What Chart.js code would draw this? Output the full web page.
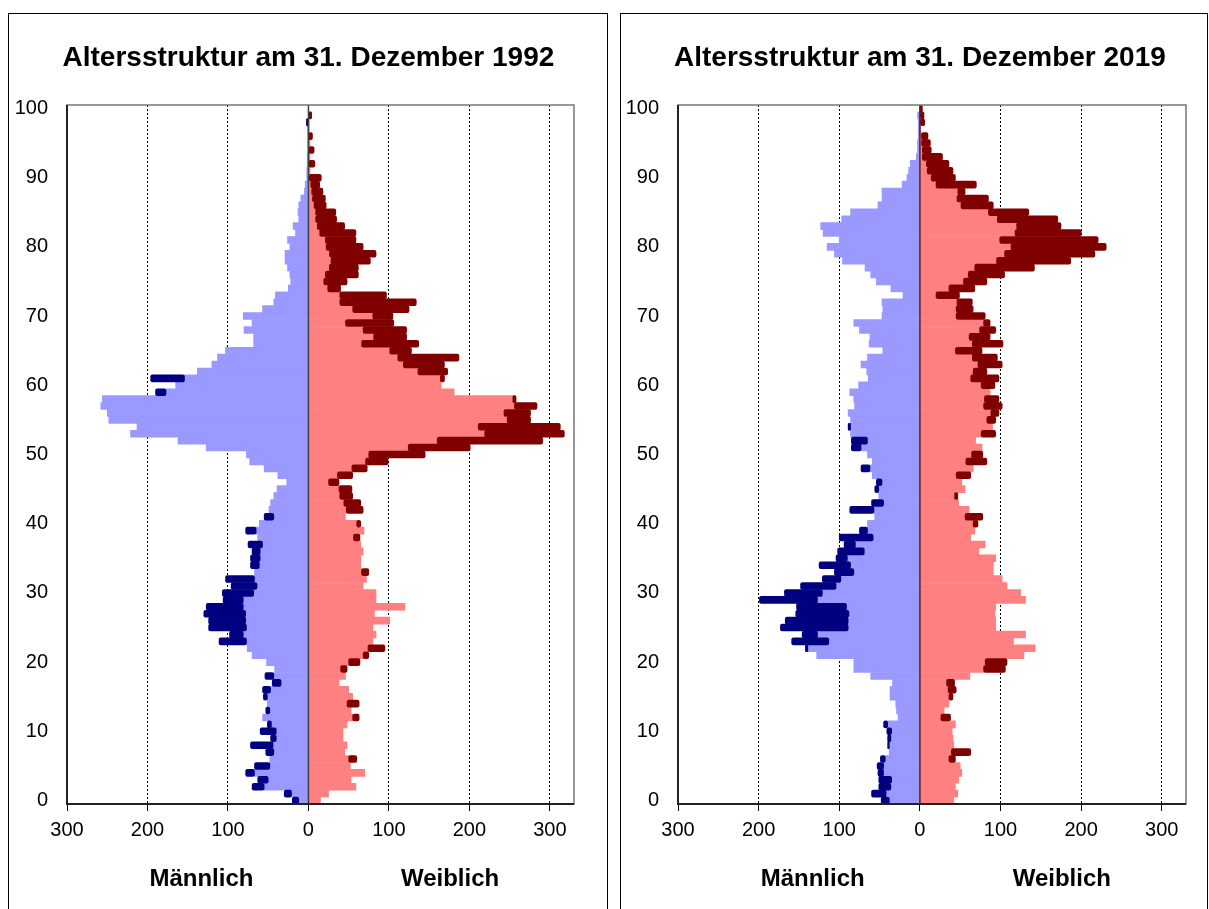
<!DOCTYPE html>
<html lang="de">
<head>
<meta charset="utf-8">
<title>Altersstruktur 1992 / 2019</title>
<script src="https://cdn.jsdelivr.net/npm/chart.js@4.4.1/dist/chart.umd.min.js"></script>
<style>
  html, body { margin: 0; padding: 0; background: #fff; overflow: hidden; }
  .panel { position: absolute; top: 13px; height: 896px; }
  #p1 { left: 8px; width: 600px; }
  #p2 { left: 620px; width: 589px; }
</style>
</head>
<body>
<div class="panel" id="p1"><canvas id="chart1992"></canvas></div>
<div class="panel" id="p2"><canvas id="chart2019"></canvas></div>
<script>
// ages 0..100, one row per year
const ages = [];
for (let a = 0; a <= 100; a++) ages.push(String(a));
const xTickValues = [-300, -200, -100, 0, 100, 200, 300];

/**** 1992 ****/
const male1992 = [
  12, 21, 55, 50, 67, 48, 48, 43, 44, 40,
  40, 46, 57, 48, 51, 51, 47, 34, 43, 42,
  52, 70, 76, 77, 81, 77, 78, 78, 81, 81,
  68, 64, 67, 67, 61, 60, 60, 57, 63, 65,
  61, 43, 49, 47, 43, 39, 27, 38, 55, 73,
  77, 127, 162, 221, 213, 248, 250, 258, 256, 177,
  165, 154, 138, 120, 113, 103, 68, 68, 80, 70,
  81, 57, 43, 41, 25, 22, 23, 26, 29, 29,
  23, 26, 16, 19, 12, 13, 12, 9.5, 5, 4,
  2, 2, 1.5, 1.5, 1, 1, 1, 1, 0, 0, 0
];
const female1992 = [
  15, 25, 59, 53, 70, 52, 50, 45, 48, 43,
  43, 48, 55, 53, 48, 55, 50, 38, 46, 40,
  50, 68, 74, 80, 84, 80, 101, 82, 120, 84,
  84, 68, 72, 66, 65, 65, 68, 65, 56, 69,
  60, 46, 47, 44, 39, 38, 25, 36, 54, 71,
  75, 124, 160, 219, 211, 247, 243, 256, 255, 181,
  165, 164, 136, 118, 111, 101, 66, 81, 68, 46,
  80, 55, 39, 39, 24, 19, 21, 26, 28, 26,
  22, 21, 14, 11, 9, 9, 7, 5, 4, 3,
  1, 2, 0, 2, 0, 2, 0, 1, 1, 0, 0
];
// surplus segments: [age, from, to]
const maleSurplus1992 = [
  [0, 12, 20], [1, 21, 30], [2, 55, 70], [3, 50, 63], [4, 67, 78], [5, 48, 67],
  [7, 43, 53], [8, 44, 72], [9, 40, 47], [10, 40, 60], [11, 46, 51], [13, 48, 53],
  [15, 51, 56], [16, 47, 57], [17, 34, 45], [18, 43, 54], [23, 77, 111], [24, 81, 98],
  [25, 77, 124], [26, 78, 124], [27, 78, 130], [28, 81, 127], [29, 81, 106], [30, 68, 107],
  [31, 64, 96], [32, 67, 103], [34, 61, 72], [35, 60, 72], [36, 60, 70], [37, 57, 75],
  [39, 65, 78], [41, 43, 55], [59, 177, 190], [61, 154, 196], [98, 0, 2.5]
];
const femaleSurplus1992 = [
  [6, 50, 60], [12, 55, 63], [14, 48, 63], [19, 40, 48], [20, 50, 64], [21, 68, 75],
  [22, 74, 95], [33, 66, 75], [38, 56, 64], [40, 60, 65], [42, 47, 68], [43, 44, 65],
  [44, 39, 55], [45, 38, 54], [46, 25, 38], [47, 36, 55], [48, 54, 73], [49, 71, 99],
  [50, 75, 145], [51, 124, 201], [52, 160, 291], [53, 219, 318], [54, 211, 313],
  [55, 247, 276], [56, 243, 276], [57, 256, 284], [58, 254, 258], [61, 164, 169],
  [62, 136, 173], [63, 118, 169], [64, 111, 187], [65, 101, 128], [66, 66, 137],
  [67, 81, 122], [68, 68, 122], [69, 46, 106], [70, 80, 105], [71, 55, 125],
  [72, 39, 134], [73, 39, 97], [74, 24, 40], [75, 19, 48], [76, 21, 62], [77, 26, 62],
  [78, 28, 77], [79, 26, 84], [80, 22, 68], [81, 21, 59], [82, 14, 59], [83, 11, 45],
  [84, 9, 35], [85, 9, 34], [86, 7, 22], [87, 5, 21], [88, 4, 18], [89, 3, 14],
  [90, 1, 16], [92, 0, 8], [94, 0, 7], [96, 0, 5], [99, 0, 4]
];

/**** 2019 ****/
const male2019 = [
  38, 42, 36, 35, 45, 45, 43, 38, 38, 36,
  35, 40, 27, 29, 30, 37, 37, 34, 61, 82,
  82, 128, 139, 113, 127, 89, 89, 88, 91, 127,
  121, 104, 98, 82, 86, 90, 69, 80, 58, 65,
  65, 56, 57, 45, 51, 51, 47, 59, 62, 59,
  65, 73, 65, 86, 86, 86, 89, 81, 82, 87,
  76, 64, 66, 73, 65, 46, 63, 62, 75, 82,
  47, 46, 47, 21, 36, 54, 61, 68, 96, 106,
  115, 100, 120, 123, 97, 86, 52, 47, 47, 22,
  16, 14, 12, 4.5, 3, 3, 2, 2, 2, 3, 0
];
const female2019 = [
  42, 47, 44, 48, 52, 50, 36, 39, 42, 41,
  40, 44, 26, 30, 36, 36, 35, 33, 62, 79,
  81, 129, 143, 116, 131, 94, 94, 93, 94, 131,
  125, 108, 102, 91, 91, 94, 73, 81, 63, 68,
  66, 56, 61, 48, 43, 56, 52, 45, 66, 57,
  64, 77, 69, 76, 90, 83, 88, 79, 80, 87,
  76, 63, 66, 72, 65, 44, 65, 61, 74, 79,
  45, 45, 46, 20, 36, 54, 60, 68, 95, 105,
  113, 99, 118, 120, 96, 85, 51, 46, 47, 20,
  14, 9, 8, 3, 3, 2, 2, 1, 0, 0, 0
];
const maleSurplus2019 = [
  [0, 38, 48], [1, 42, 60], [2, 36, 51], [3, 35, 51], [4, 45, 52], [5, 45, 53],
  [6, 43, 49], [8, 38, 40], [9, 36, 40], [10, 35, 41], [11, 40, 45], [22, 139, 142],
  [23, 113, 159], [24, 127, 146], [25, 89, 173], [26, 89, 167], [27, 88, 154],
  [28, 91, 153], [29, 127, 199], [30, 121, 168], [31, 104, 148], [32, 98, 121],
  [33, 82, 106], [34, 86, 125], [35, 90, 104], [36, 69, 102], [37, 80, 94],
  [38, 58, 100], [39, 65, 75], [42, 57, 87], [43, 45, 60], [45, 51, 56], [46, 47, 54],
  [48, 62, 73], [51, 73, 85], [52, 65, 85], [54, 86, 89]
];
const femaleSurplus2019 = [
  [6, 36, 44], [7, 39, 63], [12, 26, 38], [15, 36, 41], [16, 35, 45], [17, 33, 43],
  [19, 79, 106], [20, 81, 108], [40, 66, 72], [41, 56, 78], [44, 43, 47], [47, 45, 63],
  [49, 57, 83], [50, 64, 78], [53, 76, 94], [55, 83, 94], [56, 88, 98], [57, 79, 102],
  [58, 80, 98], [60, 76, 93], [61, 63, 98], [62, 66, 83], [63, 72, 102], [64, 65, 96],
  [65, 44, 77], [66, 65, 103], [67, 61, 87], [68, 74, 94], [69, 79, 87], [70, 45, 81],
  [71, 45, 66], [72, 46, 65], [73, 20, 49], [74, 36, 68], [75, 54, 83], [76, 60, 105],
  [77, 68, 142], [78, 95, 187], [79, 105, 217], [80, 113, 231], [81, 99, 221],
  [82, 118, 200], [83, 120, 175], [84, 96, 171], [85, 85, 135], [86, 51, 91],
  [87, 46, 85], [88, 47, 56], [89, 20, 70], [90, 14, 44], [91, 9, 41], [92, 8, 36],
  [93, 3, 28], [94, 3, 14], [95, 2, 13], [96, 2, 10], [98, 0, 6], [99, 0, 5], [100, 0, 3]
];

const FONT = 'Arial, "Liberation Sans", Helvetica, sans-serif';

// turns [age, from, to] list into a floating-bar series
function surplusSeries(list, sign) {
  const out = ages.map(() => null);
  list.forEach(([age, from, to]) => { out[age] = [sign * from, sign * to]; });
  return out;
}

/******decor plugin: panel frame, plot frame, centre line, texts*****/
const decor = {
  id: 'decor',
  beforeDraw(chart, args, o) {
    const {ctx, width, height} = chart;
    ctx.save();
    ctx.fillStyle = '#fff';
    ctx.fillRect(0, 0, width, height);
    ctx.strokeStyle = '#000';
    ctx.lineWidth = 1;
    ctx.strokeRect(0.5, 0.5, o.panelWidth, height + 10);
    ctx.restore();
  },
  afterDatasetsDraw(chart, args, o) {
    const {ctx, chartArea: a} = chart;
    const x0 = chart.scales.x.getPixelForValue(0);
    ctx.save();
    ctx.strokeStyle = o.centerColor;
    ctx.lineWidth = 1.5;
    ctx.beginPath();
    ctx.moveTo(x0, a.top);
    ctx.lineTo(x0, a.bottom);
    ctx.stroke();
    ctx.strokeStyle = '#777';
    ctx.lineWidth = 1.5;
    ctx.strokeRect(a.left, a.top, a.right - a.left, a.bottom - a.top);
    ctx.strokeStyle = '#222';
    ctx.lineWidth = 2;
    ctx.beginPath();
    ctx.moveTo(a.left, a.top);
    ctx.lineTo(a.left, a.bottom);
    ctx.lineTo(a.right, a.bottom);
    ctx.stroke();
    ctx.restore();
  },
  afterDraw(chart, args, o) {
    const {ctx} = chart;
    const xs = chart.scales.x;
    ctx.save();
    ctx.fillStyle = '#000';
    ctx.textAlign = 'center';
    ctx.textBaseline = 'middle';
    ctx.font = 'bold 28px ' + FONT;
    ctx.fillText(o.title, xs.getPixelForValue(0), 45);
    ctx.font = 'bold 24px ' + FONT;
    ctx.fillText('Männlich', xs.getPixelForValue(-133), 866);
    ctx.fillText('Weiblich', xs.getPixelForValue(176), 866);
    ctx.restore();
  }
};

function makePyramid(canvasId, cfg) {
  const data = {
    labels: ages,
    datasets: [
      { data: surplusSeries(cfg.maleSurplus, -1), backgroundColor: '#000080', borderRadius: 2, borderSkipped: false },
      { data: surplusSeries(cfg.femaleSurplus, 1), backgroundColor: '#800000', borderRadius: 2, borderSkipped: false },
      { data: cfg.male.map(v => -v), backgroundColor: '#9999ff' },
      { data: cfg.female, backgroundColor: '#ff8080' }
    ]
  };
  data.datasets.forEach(ds => {
    ds.grouped = false;
    ds.barPercentage = 1;
    ds.categoryPercentage = 1;
  });

  const config = {
    type: 'bar',
    data: data,
    plugins: [decor],
    options: {
      indexAxis: 'y',
      responsive: true,
      maintainAspectRatio: false,
      animation: false,
      layout: { padding: { left: cfg.plotLeft - 56, right: cfg.padRight, top: 92, bottom: 45 } },
      plugins: {
        legend: { display: false },
        tooltip: { enabled: false },
        title: { display: false },
        decor: { title: cfg.title, panelWidth: cfg.panelWidth, centerColor: cfg.centerColor }
      },
      scales: {
        x: {
          type: 'linear',
          min: -300,
          max: 330,
          afterBuildTicks: axis => { axis.ticks = xTickValues.map(v => ({ value: v })); },
          afterFit: scale => { scale.height = 60; },
          ticks: {
            padding: 7,
            color: '#000',
            font: { family: FONT, size: 20 },
            callback: v => Math.abs(v)
          },
          grid: {
            color: c => (c.tick && (c.tick.value === 0 || c.tick.value === -300)) ? 'rgba(0,0,0,0)' : '#000',
            lineWidth: 1,
            tickLength: 7,
            tickColor: '#000',
            tickBorderDash: []
          },
          border: { display: false, dash: [2, 2] }
        },
        y: {
          type: 'category',
          reverse: true,
          afterFit: scale => { scale.width = 56; },
          grid: { display: false, drawTicks: false },
          border: { display: false },
          ticks: {
            autoSkip: false,
            padding: 19,
            crossAlign: 'near',
            color: '#000',
            font: { family: FONT, size: 20 },
            callback: function (v, i) { return i % 10 === 0 ? this.getLabelForValue(v) : ''; }
          }
        }
      }
    }
  };
  return new Chart(document.getElementById(canvasId), config);
}

makePyramid('chart1992', {
  title: 'Altersstruktur am 31. Dezember 1992',
  male: male1992, female: female1992,
  maleSurplus: maleSurplus1992, femaleSurplus: femaleSurplus1992,
  plotLeft: 59, padRight: 34, panelWidth: 599, centerColor: '#404040'
});
makePyramid('chart2019', {
  title: 'Altersstruktur am 31. Dezember 2019',
  male: male2019, female: female2019,
  maleSurplus: maleSurplus2019, femaleSurplus: femaleSurplus2019,
  plotLeft: 58, padRight: 23, panelWidth: 587, centerColor: '#5a1a1a'
});
</script>
</body>
</html>
